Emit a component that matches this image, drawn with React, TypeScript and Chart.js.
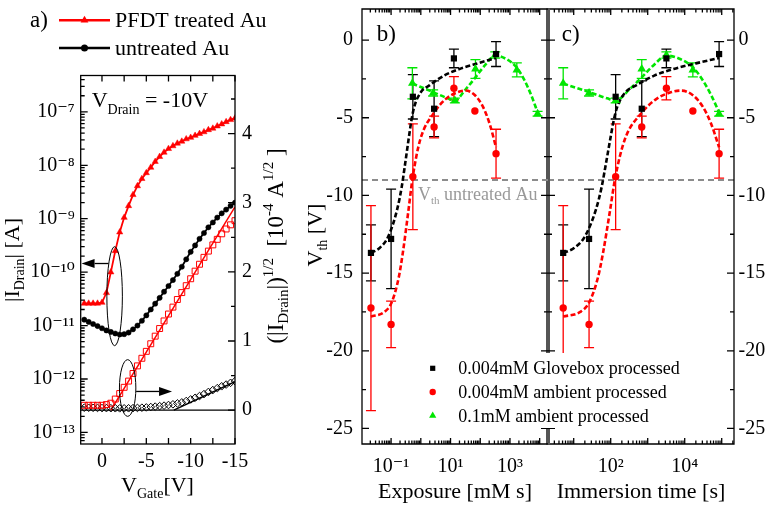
import React, { useEffect, useRef } from 'react';
import { Chart, registerables } from 'chart.js';

Chart.register(...registerables);

const FONT = "'Liberation Serif', 'DejaVu Serif', serif";
Chart.defaults.font.family = FONT;
Chart.defaults.color = '#000';

const RED = '#ff0000';
const BLACK = '#000000';
const GREEN = '#00e600';
const GREY_LINE = '#8c8c8c';
const GREY_TEXT = '#999999';
const SEPARATOR = '#555555';

// ---------------- panel a : transfer curves ----------------
const vGate = [2, 1.5, 1, 0.5, 0, -0.5, -1, -1.5, -2, -2.5, -3, -3.5, -4, -4.5, -5, -5.5, -6, -6.5, -7, -7.5, -8, -8.5, -9, -9.5, -10, -10.5, -11, -11.5, -12, -12.5, -13, -13.5, -14, -14.5, -15];
const iDrainPFDT = [2.6e-11, 2.6e-11, 2.6e-11, 2.6e-11, 2.7e-11, 4.1e-11, 1.0e-10, 2.5e-10, 5.6e-10, 1.05e-9, 1.74e-9, 2.8e-9, 4.1e-9, 5.6e-9, 7.2e-9, 9.1e-9, 1.17e-8, 1.45e-8, 1.74e-8, 2.04e-8, 2.3e-8, 2.57e-8, 2.8e-8, 3.1e-8, 3.3e-8, 3.6e-8, 3.9e-8, 4.2e-8, 4.6e-8, 4.9e-8, 5.4e-8, 5.9e-8, 6.5e-8, 7.1e-8, 7.6e-8];
const iDrainUntreated = [1.29e-11, 1.17e-11, 1.07e-11, 9.8e-12, 8.9e-12, 8.1e-12, 7.6e-12, 7.1e-12, 6.8e-12, 6.9e-12, 7.4e-12, 8.5e-12, 1.0e-11, 1.23e-11, 1.55e-11, 2.0e-11, 2.57e-11, 3.3e-11, 4.3e-11, 5.5e-11, 7.1e-11, 9.3e-11, 1.26e-10, 1.74e-10, 2.4e-10, 3.16e-10, 4.2e-10, 5.4e-10, 6.9e-10, 8.5e-10, 1.05e-9, 1.26e-9, 1.48e-9, 1.74e-9, 2.0e-9];
const sqrtIDrainPFDT = [0.07, 0.07, 0.07, 0.07, 0.07, 0.08, 0.1, 0.16, 0.24, 0.33, 0.42, 0.53, 0.64, 0.75, 0.85, 0.96, 1.07, 1.18, 1.29, 1.39, 1.49, 1.6, 1.7, 1.8, 1.9, 2.01, 2.11, 2.21, 2.3, 2.39, 2.47, 2.55, 2.62, 2.68, 2.74];
const sqrtIDrainUntreated = [0.035, 0.034, 0.033, 0.032, 0.03, 0.029, 0.028, 0.027, 0.026, 0.026, 0.027, 0.029, 0.032, 0.035, 0.039, 0.045, 0.051, 0.058, 0.065, 0.074, 0.084, 0.097, 0.112, 0.132, 0.155, 0.178, 0.204, 0.232, 0.263, 0.29, 0.318, 0.345, 0.37, 0.395, 0.42];
const fitPFDTGate = [-1.0, -15];
const fitPFDTSqrt = [0, 2.94];
const fitUntreatedGate = [-8.1, -15];
const fitUntreatedSqrt = [0, 0.41];
const gateTickLabels = [0, -5, -10, -15];
const currentDecades = [1e-13, 1e-12, 1e-11, 1e-10, 1e-9, 1e-8, 1e-7];
const sqrtTickLabels = [0, 1, 2, 3, 4];

// ---------------- panels b, c : threshold voltage ----------------
const immersionTime = [5.2, 26, 136, 690, 3200, 16600, 85000];
const exposureLowConc = [0.021, 0.1, 0.54, 2.8, 13, 66, 340];
const exposureHighConc = [0.52, 2.6, 14, 69, 320, 1700, 8500];
const vthGlovebox = [-13.7, -12.8, -3.65, -4.42, -1.18, null, -0.9];
const errGlovebox = [1.8, 3.2, 1.43, 1.8, 0.6, null, 0.8];
const vthAmbientLow = [-17.25, -18.3, -8.8, -5.6, -3.1, -4.57, -7.31];
const errAmbientLow = [6.6, 1.5, 3.4, 0.7, 0.75, 0, 1.57];
const vthAmbientHigh = [-2.78, -3.4, -3.89, -1.86, -0.96, -1.92, -4.74];
const errAmbientHigh = [1.0, 0.2, 0.15, 0.6, 0.2, 0.45, 0.15];

const fitGloveboxTime = [5.2, 10, 20, 40, 57, 75, 96, 120, 150, 250, 500, 1500, 5000, 20000, 85000];
const fitGloveboxVth = [-13.7, -13.4, -12.65, -10.9, -9.45, -7.9, -6.45, -5.2, -4.3, -3.36, -2.9, -2.29, -1.86, -1.5, -1.15];
const fitAmbientLowTime = [5.2, 15, 26, 45, 62, 94, 134, 240, 680, 1700, 4400, 8000, 16600, 31000, 52000, 85000];
const fitAmbientLowVth = [-17.8, -17.5, -16.9, -15.3, -13.7, -11.1, -8.8, -6.4, -4.7, -3.8, -3.35, -3.25, -3.55, -4.3, -5.4, -6.9];
const fitAmbientHighTime = [5.2, 26, 80, 136, 330, 690, 1400, 3200, 7200, 16600, 31000, 52000, 85000];
const fitAmbientHighVth = [-2.8, -3.35, -3.75, -3.9, -3.15, -2.4, -1.65, -1.0, -1.2, -1.75, -2.6, -3.55, -4.65];

const LOW_CONC = 0.004; // mM
const HIGH_CONC = 0.1; // mM
const VTH_UNTREATED = -9.0;
const vthTickLabels = [0, -5, -10, -15, -20, -25];
const exposureTickLabels = [0.1, 10, 1000];
const timeTickLabels = [100, 10000];
const seriesLabels = ['0.004mM Glovebox processed', '0.004mM ambient processed', '0.1mM ambient processed'];

// ---------------- helpers ----------------
const SUP: Record<string, string> = { '-': '\u207B', '0': '\u2070', '1': '\u00B9', '2': '\u00B2', '3': '\u00B3', '4': '\u2074', '5': '\u2075', '6': '\u2076', '7': '\u2077', '8': '\u2078', '9': '\u2079' };
function pow10Label(value: number): string {
  const e = Math.round(Math.log10(value));
  return '10' + String(e).split('').map((c) => SUP[c] || c).join('');
}

function logTickValues(min: number, max: number) {
  const major: number[] = [];
  const minor: number[] = [];
  for (let d = Math.floor(Math.log10(min)); d <= Math.ceil(Math.log10(max)); d++) {
    for (let k = 1; k <= 9; k++) {
      const v = k * Math.pow(10, d);
      if (v < min * 0.999 || v > max * 1.001) continue;
      (k === 1 ? major : minor).push(v);
    }
  }
  return { major, minor };
}

function linValues(from: number, to: number, step: number) {
  const out: number[] = [];
  for (let v = from; v <= to + 1e-9; v += step) out.push(Math.round(v * 1000) / 1000);
  return out;
}

type Side = 'left' | 'right' | 'top' | 'bottom';
function tickMarks(ctx: any, chart: any, scaleId: string, side: Side, values: number[], len: number) {
  const s = chart.scales[scaleId];
  const a = chart.chartArea;
  ctx.beginPath();
  values.forEach((v) => {
    const p = s.getPixelForValue(v);
    if (side === 'top' || side === 'bottom') {
      if (p < a.left - 0.5 || p > a.right + 0.5) return;
      const y0 = side === 'bottom' ? a.bottom : a.top;
      ctx.moveTo(p, y0);
      ctx.lineTo(p, side === 'bottom' ? y0 - len : y0 + len);
    } else {
      if (p < a.top - 0.5 || p > a.bottom + 0.5) return;
      const x0 = side === 'left' ? a.left : a.right;
      ctx.moveTo(x0, p);
      ctx.lineTo(side === 'left' ? x0 + len : x0 - len, p);
    }
  });
  ctx.stroke();
}

type Part = { text: string; size: number; dy?: number };
function drawRich(ctx: any, parts: Part[], x: number, y: number, align: 'left' | 'center', rotate = false, color = BLACK) {
  ctx.save();
  ctx.translate(x, y);
  if (rotate) ctx.rotate(-Math.PI / 2);
  ctx.textBaseline = 'alphabetic';
  ctx.textAlign = 'left';
  ctx.fillStyle = color;
  const widths = parts.map((p) => {
    ctx.font = `${p.size}px ${FONT}`;
    return ctx.measureText(p.text).width;
  });
  const total = widths.reduce((s, w) => s + w, 0);
  let cx = align === 'center' ? -total / 2 : 0;
  parts.forEach((p, i) => {
    ctx.font = `${p.size}px ${FONT}`;
    ctx.fillText(p.text, cx, p.dy || 0);
    cx += widths[i];
  });
  ctx.restore();
}

function marker(ctx: any, style: string, x: number, y: number, r: number, color: string) {
  ctx.fillStyle = color;
  ctx.beginPath();
  if (style === 'circle') ctx.arc(x, y, r, 0, Math.PI * 2);
  else if (style === 'rect') ctx.rect(x - r, y - r, 2 * r, 2 * r);
  else {
    ctx.moveTo(x, y - r);
    ctx.lineTo(x + r * 0.866, y + r * 0.5);
    ctx.lineTo(x - r * 0.866, y + r * 0.5);
    ctx.closePath();
  }
  ctx.fill();
}

function ellipseBounds(ctx: any, xs: any, ys: any, x1: number, x2: number, y1: number, y2: number) {
  const px1 = xs.getPixelForValue(x1);
  const px2 = xs.getPixelForValue(x2);
  const py1 = ys.getPixelForValue(y1);
  const py2 = ys.getPixelForValue(y2);
  ctx.beginPath();
  ctx.ellipse((px1 + px2) / 2, (py1 + py2) / 2, Math.abs(px2 - px1) / 2, Math.abs(py2 - py1) / 2, 0, 0, Math.PI * 2);
  ctx.stroke();
}

function hArrow(ctx: any, x1: number, x2: number, y: number) {
  const dir = Math.sign(x2 - x1);
  const head = 13;
  const half = 4.5;
  ctx.beginPath();
  ctx.moveTo(x1, y);
  ctx.lineTo(x2 - dir * head, y);
  ctx.stroke();
  ctx.beginPath();
  ctx.moveTo(x2, y);
  ctx.lineTo(x2 - dir * head, y - half);
  ctx.lineTo(x2 - dir * head, y + half);
  ctx.closePath();
  ctx.fill();
}

const axisBase = { grid: { display: false, drawTicks: false }, border: { display: false } };
const tickFont = { family: FONT, size: 20 };

function fixWidth(w: number) {
  return (s: any) => { s.width = w; s.paddingTop = 0; s.paddingBottom = 0; };
}
function fixHeight(h: number) {
  return (s: any) => { s.height = h; s.paddingLeft = 0; s.paddingRight = 0; };
}

// ---------------- panel a ----------------
const decorA = {
  id: 'decorA',
  beforeDatasetsDraw(chart: any) {
    const { ctx, chartArea: a, scales } = chart;
    const y0 = scales.y2.getPixelForValue(0);
    ctx.save();
    ctx.strokeStyle = BLACK;
    ctx.lineWidth = 1.3;
    ctx.beginPath();
    ctx.moveTo(a.left, y0);
    ctx.lineTo(a.right, y0);
    ctx.stroke();
    ctx.restore();
  },
  afterDraw(chart: any) {
    const { ctx, chartArea: a, scales } = chart;
    ctx.save();
    ctx.strokeStyle = BLACK;
    ctx.fillStyle = BLACK;
    ctx.lineWidth = 1.3;
    ctx.strokeRect(a.left, a.top, a.right - a.left, a.bottom - a.top);
    const xt = linValues(-15, 2.5, 2.5);
    tickMarks(ctx, chart, 'x', 'bottom', xt, 6);
    tickMarks(ctx, chart, 'x', 'top', xt, 6);
    const lt = logTickValues(scales.y.min, scales.y.max);
    tickMarks(ctx, chart, 'y', 'left', lt.major, 7);
    tickMarks(ctx, chart, 'y', 'left', lt.minor, 4);
    tickMarks(ctx, chart, 'y2', 'right', sqrtTickLabels, 7);
    tickMarks(ctx, chart, 'y2', 'right', linValues(0.5, 4.5, 1), 4);

    // guide ellipses and arrows
    ctx.lineWidth = 1;
    ellipseBounds(ctx, scales.x, scales.y, -0.55, -2.3, 3.0e-10, 4.2e-12);
    ellipseBounds(ctx, scales.x, scales.y2, -1.97, -3.82, 0.73, -0.09);
    ctx.lineWidth = 1.3;
    const ya1 = scales.y.getPixelForValue(1.45e-10);
    hArrow(ctx, scales.x.getPixelForValue(-0.74), scales.x.getPixelForValue(2.3), ya1);
    const ya2 = scales.y2.getPixelForValue(0.27);
    hArrow(ctx, scales.x.getPixelForValue(-3.85), scales.x.getPixelForValue(-7.9), ya2);

    // texts
    drawRich(ctx, [{ text: 'V', size: 22 }, { text: 'Drain', size: 14, dy: 7 }, { text: ' = -10V', size: 22 }], 91.7, 106.7, 'left');
    drawRich(ctx, [{ text: '|I', size: 22 }, { text: 'Drain', size: 14, dy: 5 }, { text: '| [A]', size: 22 }], 19, 260, 'center', true);
    drawRich(ctx, [
      { text: '(|I', size: 23 }, { text: 'Drain', size: 15, dy: 5 }, { text: '|)', size: 23 }, { text: '1/2', size: 15, dy: -10 },
      { text: '  [10', size: 23 }, { text: '-4', size: 15, dy: -10 }, { text: ' A', size: 23 }, { text: '1/2', size: 15, dy: -10 }, { text: ' ]', size: 23 },
    ], 283, 246, 'center', true);
    drawRich(ctx, [{ text: 'V', size: 22 }, { text: 'Gate', size: 14, dy: 6 }, { text: '[V]', size: 22 }], 157.5, 491.7, 'center');

    // legend
    drawRich(ctx, [{ text: 'a)', size: 23 }], 30, 27, 'left');
    const rows = [
      { ds: chart.data.datasets[0], y: 20.3, style: 'triangle', r: 4.5 },
      { ds: chart.data.datasets[1], y: 48, style: 'circle', r: 3.5 },
    ];
    rows.forEach((row) => {
      ctx.strokeStyle = row.ds.borderColor;
      ctx.lineWidth = 2.5;
      ctx.beginPath();
      ctx.moveTo(59, row.y);
      ctx.lineTo(110, row.y);
      ctx.stroke();
      marker(ctx, row.style, 84.5, row.y, row.r, row.ds.borderColor);
      drawRich(ctx, [{ text: row.ds.label, size: 22 }], 115, row.y + 7, 'left');
    });
    ctx.restore();
  },
};

function pointsA(ys: number[]) {
  return vGate.map((v, i) => ({ x: v, y: ys[i] }));
}

function buildPanelA(canvas: HTMLCanvasElement) {
  return new Chart(canvas, {
    type: 'scatter',
    data: {
      datasets: [
        { label: 'PFDT treated Au', data: pointsA(iDrainPFDT), yAxisID: 'y', showLine: true, borderColor: RED, borderWidth: 1.8, pointStyle: 'triangle', pointRadius: 3.6, pointBackgroundColor: RED, pointBorderColor: RED, pointBorderWidth: 0.5 },
        { label: 'untreated Au', data: pointsA(iDrainUntreated), yAxisID: 'y', showLine: true, borderColor: BLACK, borderWidth: 1.8, pointStyle: 'circle', pointRadius: 2.6, pointBackgroundColor: BLACK, pointBorderColor: BLACK, pointBorderWidth: 0.5 },
        { label: 'PFDT treated Au sqrt', data: pointsA(sqrtIDrainPFDT), yAxisID: 'y2', showLine: false, pointStyle: 'rect', pointRadius: 4.2, pointBackgroundColor: 'rgba(0,0,0,0)', pointBorderColor: RED, pointBorderWidth: 1 },
        { label: 'untreated Au sqrt', data: pointsA(sqrtIDrainUntreated), yAxisID: 'y2', showLine: false, pointStyle: 'rectRot', pointRadius: 3.8, pointBackgroundColor: 'rgba(0,0,0,0)', pointBorderColor: BLACK, pointBorderWidth: 1 },
        { label: 'PFDT fit', data: fitPFDTGate.map((v, i) => ({ x: v, y: fitPFDTSqrt[i] })), yAxisID: 'y2', showLine: true, borderColor: RED, borderWidth: 1.5, pointRadius: 0 },
        { label: 'untreated fit', data: fitUntreatedGate.map((v, i) => ({ x: v, y: fitUntreatedSqrt[i] })), yAxisID: 'y2', showLine: true, borderColor: BLACK, borderWidth: 1.5, pointRadius: 0 },
      ],
    },
    options: {
      responsive: false,
      animation: false,
      devicePixelRatio: 1,
      events: [],
      layout: { autoPadding: false, padding: { left: 0, right: 471, top: 75.5, bottom: 0 } },
      plugins: { legend: { display: false }, tooltip: { enabled: false } },
      scales: {
        x: {
          ...axisBase, type: 'linear', position: 'bottom', reverse: true, min: -15, max: 2.4,
          afterFit: fixHeight(61),
          afterBuildTicks: (s: any) => { s.ticks = gateTickLabels.map((v) => ({ value: v })); },
          ticks: { font: tickFont, color: BLACK, padding: 6, autoSkip: false, maxRotation: 0, callback: (v: any) => String(v) },
        },
        y: {
          ...axisBase, type: 'logarithmic', position: 'left', min: 6.07e-14, max: 4.79e-7,
          afterFit: fixWidth(80.7),
          afterBuildTicks: (s: any) => { s.ticks = currentDecades.map((v) => ({ value: v })); },
          ticks: { font: tickFont, color: BLACK, padding: 6, autoSkip: false, callback: (v: any) => pow10Label(Number(v)) },
        },
        y2: {
          ...axisBase, type: 'linear', position: 'right', min: -0.49, max: 4.84,
          afterFit: fixWidth(65),
          afterBuildTicks: (s: any) => { s.ticks = sqrtTickLabels.map((v) => ({ value: v })); },
          ticks: { font: tickFont, color: BLACK, padding: 7, autoSkip: false, callback: (v: any) => String(v) },
        },
      },
    } as any,
    plugins: [decorA],
  } as any);
}

// ---------------- panels b, c ----------------
const vthPlugin = {
  id: 'vthRefAndErrors',
  beforeDatasetsDraw(chart: any) {
    const { ctx, chartArea: a, scales } = chart;
    ctx.save();
    const yr = scales.y.getPixelForValue(VTH_UNTREATED);
    ctx.strokeStyle = GREY_LINE;
    ctx.lineWidth = 2;
    ctx.setLineDash([6, 4]);
    ctx.beginPath();
    ctx.moveTo(a.left, yr);
    ctx.lineTo(a.right, yr);
    ctx.stroke();
    ctx.setLineDash([]);
    ctx.beginPath();
    ctx.rect(a.left, a.top, a.right - a.left, a.bottom - a.top);
    ctx.clip();
    chart.data.datasets.forEach((ds: any, i: number) => {
      if (!ds.errorBars) return;
      const meta = chart.getDatasetMeta(i);
      const ys = chart.scales[meta.yAxisID];
      ctx.strokeStyle = ds.pointBorderColor;
      ctx.lineWidth = 1.3;
      ds.data.forEach((p: any, j: number) => {
        if (!p.err) return;
        const x = meta.data[j].x;
        const yT = ys.getPixelForValue(p.y + p.err);
        const yB = ys.getPixelForValue(p.y - p.err);
        ctx.beginPath();
        ctx.moveTo(x, yT); ctx.lineTo(x, yB);
        ctx.moveTo(x - 5, yT); ctx.lineTo(x + 5, yT);
        ctx.moveTo(x - 5, yB); ctx.lineTo(x + 5, yB);
        ctx.stroke();
      });
    });
    ctx.restore();
  },
};

function frameBC(chart: any, isC: boolean) {
  const { ctx, chartArea: a, scales } = chart;
  ctx.save();
  ctx.strokeStyle = BLACK;
  ctx.lineWidth = 1.3;
  ctx.beginPath();
  if (isC) {
    ctx.moveTo(a.left, a.top); ctx.lineTo(a.right, a.top); ctx.lineTo(a.right, a.bottom); ctx.lineTo(a.left, a.bottom);
  } else {
    ctx.moveTo(a.right, a.top); ctx.lineTo(a.left, a.top); ctx.lineTo(a.left, a.bottom); ctx.lineTo(a.right, a.bottom);
  }
  ctx.stroke();
  if (isC) {
    ctx.fillStyle = SEPARATOR;
    ctx.fillRect(a.left - 2, a.top - 0.6, 4, a.bottom - a.top + 1.2);
  }
  const lx = logTickValues(scales.x.min, scales.x.max);
  (['bottom', 'top'] as Side[]).forEach((side) => {
    tickMarks(ctx, chart, 'x', side, lx.major, 6);
    tickMarks(ctx, chart, 'x', side, lx.minor, 3.5);
  });
  (['left', 'right'] as Side[]).forEach((side) => {
    tickMarks(ctx, chart, 'y', side, vthTickLabels, 7);
    tickMarks(ctx, chart, 'y', side, linValues(-22.5, -2.5, 5), 4);
  });
  ctx.restore();
}

function pointsBC(xs: number[], ys: (number | null)[], errs: (number | null)[]) {
  return xs.map((x, i) => ({ x, y: ys[i], err: errs[i] })).filter((p) => p.y !== null);
}

function datasetsBC(xLow: number[], xHigh: number[], fitLowX: number[], fitLowXRed: number[], fitHighX: number[]) {
  const fitStyle = { showLine: true, pointRadius: 0, borderWidth: 2.6, borderDash: [5, 2.5], cubicInterpolationMode: 'monotone' };
  return [
    { label: seriesLabels[0], data: pointsBC(xLow, vthGlovebox, errGlovebox), errorBars: true, showLine: false, pointStyle: 'rect', pointRadius: 4.4, pointBackgroundColor: BLACK, pointBorderColor: BLACK, pointBorderWidth: 0 },
    { label: seriesLabels[1], data: pointsBC(xLow, vthAmbientLow, errAmbientLow), errorBars: true, showLine: false, pointStyle: 'circle', pointRadius: 3.7, pointBackgroundColor: RED, pointBorderColor: RED, pointBorderWidth: 0 },
    { label: seriesLabels[2], data: pointsBC(xHigh, vthAmbientHigh, errAmbientHigh), errorBars: true, showLine: false, pointStyle: 'triangle', pointRadius: 5, pointBackgroundColor: GREEN, pointBorderColor: GREEN, pointBorderWidth: 0 },
    { label: 'fit glovebox', data: fitLowX.map((x, i) => ({ x, y: fitGloveboxVth[i] })), borderColor: BLACK, ...fitStyle },
    { label: 'fit ambient 0.004mM', data: fitLowXRed.map((x, i) => ({ x, y: fitAmbientLowVth[i] })), borderColor: RED, ...fitStyle },
    { label: 'fit ambient 0.1mM', data: fitHighX.map((x, i) => ({ x, y: fitAmbientHighVth[i] })), borderColor: GREEN, ...fitStyle },
  ];
}

const decorB = {
  id: 'decorB',
  afterDraw(chart: any) {
    const { ctx } = chart;
    frameBC(chart, false);
    drawRich(ctx, [{ text: 'b)', size: 23 }], 376.7, 41, 'left');
    drawRich(ctx, [{ text: 'V', size: 18 }, { text: 'th', size: 11, dy: 4 }, { text: ' untreated Au', size: 18 }], 418, 200, 'left', false, GREY_TEXT);
    drawRich(ctx, [{ text: 'V', size: 22 }, { text: 'th', size: 14, dy: 5 }, { text: ' [V]', size: 22 }], 322, 235, 'center', true);
    // legend box (opaque, spans into panel c)
    ctx.save();
    ctx.fillStyle = '#ffffff';
    ctx.fillRect(424, 353, 268, 75);
    ctx.restore();
    const styles = ['rect', 'circle', 'triangle'];
    const radii = [2.6, 3.2, 4.2];
    for (let i = 0; i < 3; i++) {
      const ds = chart.data.datasets[i];
      const y = 368.3 + i * 23.7;
      marker(ctx, styles[i], 432.7, y, radii[i], ds.pointBackgroundColor);
      drawRich(ctx, [{ text: ds.label, size: 18 }], 458.3, y + 6, 'left');
    }
  },
};

const decorC = {
  id: 'decorC',
  afterDraw(chart: any) {
    frameBC(chart, true);
    drawRich(chart.ctx, [{ text: 'c)', size: 23 }], 561.7, 41, 'left');
  },
};

function yScaleBC(position: 'left' | 'right', width: number, padding: number) {
  return {
    ...axisBase, type: 'linear', position, min: -26, max: 2,
    afterFit: fixWidth(width),
    afterBuildTicks: (s: any) => { s.ticks = vthTickLabels.map((v) => ({ value: v })); },
    ticks: { font: tickFont, color: BLACK, padding, autoSkip: false, callback: (v: any) => String(v) },
  };
}

function xScaleBC(min: number, max: number, labels: number[], title: string) {
  return {
    ...axisBase, type: 'logarithmic', position: 'bottom', min, max,
    afterFit: fixHeight(61),
    afterBuildTicks: (s: any) => { s.ticks = labels.map((v) => ({ value: v })); },
    ticks: { font: tickFont, color: BLACK, padding: 11, autoSkip: false, maxRotation: 0, callback: (v: any) => pow10Label(Number(v)) },
    title: { display: true, text: title, font: { family: FONT, size: 22 }, color: BLACK, padding: { top: 0, bottom: 0 } },
  };
}

const commonBC = {
  responsive: false,
  animation: false,
  devicePixelRatio: 1,
  events: [],
  plugins: { legend: { display: false }, tooltip: { enabled: false } },
};

function buildPanelB(canvas: HTMLCanvasElement) {
  return new Chart(canvas, {
    type: 'scatter',
    data: {
      datasets: datasetsBC(
        exposureLowConc,
        exposureHighConc,
        fitGloveboxTime.map((t) => t * LOW_CONC),
        fitAmbientLowTime.map((t) => t * LOW_CONC),
        fitAmbientHighTime.map((t) => t * HIGH_CONC),
      ),
    },
    options: {
      ...commonBC,
      layout: { autoPadding: false, padding: { left: 300, right: 223, top: 9, bottom: 0 } },
      scales: {
        x: xScaleBC(0.0105, 19050, exposureTickLabels, 'Exposure [mM s]'),
        y: yScaleBC('left', 62, 9),
      },
    } as any,
    plugins: [vthPlugin, decorB],
  } as any);
}

function buildPanelC(canvas: HTMLCanvasElement) {
  return new Chart(canvas, {
    type: 'scatter',
    data: {
      datasets: datasetsBC(immersionTime, immersionTime, fitGloveboxTime, fitAmbientLowTime, fitAmbientHighTime),
    },
    options: {
      ...commonBC,
      layout: { autoPadding: false, padding: { left: 548, right: 0, top: 9, bottom: 0 } },
      scales: {
        x: xScaleBC(2.02, 214800, timeTickLabels, 'Immersion time [s]'),
        y: yScaleBC('right', 37, 4.5),
      },
    } as any,
    plugins: [vthPlugin, decorC],
  } as any);
}

function PanelCanvas({ build }: { build: (c: HTMLCanvasElement) => Chart }) {
  const ref = useRef<HTMLCanvasElement>(null);
  useEffect(() => {
    if (!ref.current) return undefined;
    const chart = build(ref.current);
    return () => chart.destroy();
  }, [build]);
  return (
    <canvas
      ref={ref}
      width={771}
      height={505}
      style={{ position: 'absolute', left: 0, top: 0, width: 771, height: 505 }}
    />
  );
}

export default function App() {
  return (
    <div style={{ position: 'absolute', left: 0, top: 0, width: 771, height: 505, background: '#ffffff', overflow: 'hidden' }}>
      <PanelCanvas build={buildPanelA} />
      <PanelCanvas build={buildPanelC} />
      <PanelCanvas build={buildPanelB} />
    </div>
  );
}
